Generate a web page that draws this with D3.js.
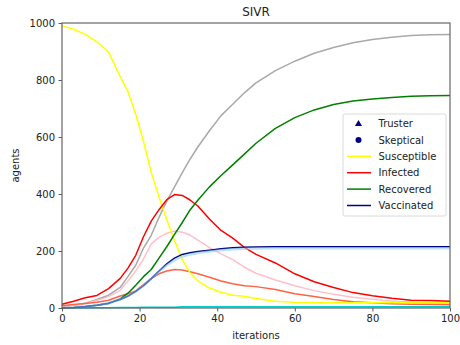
<!DOCTYPE html>
<html>
<head>
<meta charset="utf-8">
<script src="https://cdn.jsdelivr.net/npm/d3@7"></script>
<style>
  body { margin: 0; background: #fff; }
  svg { display: block; font-family: "DejaVu Sans", sans-serif; }
</style>
</head>
<body>
<svg id="chart" width="460" height="345"></svg>
<script>
const iterations = [0, 3, 6, 9, 12, 15, 17, 19, 21, 23, 25, 27, 29, 31, 33, 35, 38, 41, 44, 47, 50, 55, 60, 65, 70, 75, 80, 85, 90, 95, 100]

const susceptible = [990, 978, 960, 934, 898, 812, 760, 680, 585, 475, 390, 310, 236, 170, 124, 95, 70, 55, 45, 41, 33, 24, 20, 19, 18, 18, 18, 18, 18, 18, 18]
const infected = [13, 24, 36, 44, 68, 104, 140, 185, 250, 305, 345, 380, 398, 395, 379, 358, 312, 272, 245, 213, 188, 158, 120, 92, 72, 54, 43, 34, 27, 26, 24]
const recovered = [0, 2, 5, 10, 16, 32, 52, 80, 110, 135, 175, 215, 258, 300, 344, 378, 425, 465, 502, 540, 578, 630, 668, 695, 714, 726, 733, 739, 743, 745, 746]
const vaccinated = [0, 2, 5, 10, 17, 30, 42, 58, 78, 103, 130, 155, 175, 188, 194, 198, 203, 208, 211, 213, 214, 215, 215, 215, 215, 215, 215, 215, 215, 215, 215]

// per-group lines (not in the legend)
const grayLine = [5, 10, 17, 30, 45, 72, 110, 150, 210, 255, 318, 375, 425, 475, 522, 565, 622, 675, 715, 755, 790, 833, 866, 894, 914, 931, 942, 950, 956, 959, 960]
const pinkLine = [5, 10, 16, 26, 40, 62, 95, 130, 172, 225, 248, 262, 270, 266, 256, 238, 212, 190, 170, 143, 122, 98, 78, 61, 48, 38, 31, 24, 20, 17, 15]
const tomatoLine = [8, 12, 16, 20, 27, 42, 50, 60, 82, 103, 120, 130, 135, 133, 127, 120, 108, 95, 85, 78, 75, 65, 50, 40, 30, 22, 18, 15, 13, 12, 11]
const lightBlueLine = [0, 2, 5, 10, 17, 30, 42, 58, 78, 103, 128, 150, 168, 181, 188, 193, 198, 203, 206, 208, 209, 210, 210, 210, 210, 210, 210, 210, 210, 210, 210]
const cyanLine = [0, 0, 1, 1, 1, 2, 2, 2, 3, 3, 3, 3, 3, 4, 4, 4, 4, 4, 4, 4, 4, 4, 4, 4, 4, 4, 4, 4, 4, 4, 4]

const xTicks = [0, 20, 40, 60, 80, 100]
const yTicks = [0, 200, 400, 600, 800, 1000]

const legendItems = [
    { label: "Truster", marker: "triangle" },
    { label: "Skeptical", marker: "circle" },
    { label: "Susceptible", color: "#ffff00" },
    { label: "Infected", color: "#ff0000" },
    { label: "Recovered", color: "#008000" },
    { label: "Vaccinated", color: "#000080" }
]

const series = [
    { values: grayLine, color: "#a9a9a9", width: 1.5, opacity: 1 },
    { values: pinkLine, color: "#ffc0cb", width: 1.5, opacity: 1 },
    { values: tomatoLine, color: "#ff6347", width: 1.5, opacity: 1 },
    { values: cyanLine, color: "#00cccc", width: 1.5, opacity: 1 },
    { values: susceptible, color: "#ffff00", width: 1.5, opacity: 1 },
    { values: infected, color: "#ff0000", width: 1.5, opacity: 1 },
    { values: recovered, color: "#008000", width: 1.5, opacity: 1 },
    { values: vaccinated, color: "#000080", width: 1.5, opacity: 1 },
    { values: lightBlueLine, color: "#87cefa", width: 2.5, opacity: 0.55 }
]

const svg = d3.select("#chart")
const plotLeft = 62, plotRight = 450, plotTop = 23, plotBottom = 308

const x = d3.scaleLinear().domain([0, 100]).range([plotLeft, plotRight])
const y = d3.scaleLinear().domain([0, 1000]).range([plotBottom, plotTop])

const line = d3.line()
    .x((d, i) => x(iterations[i]))
    .y((d) => y(d))

const plot = svg.append("g")
series.forEach((s) => {
    plot.append("path")
        .datum(s.values)
        .attr("fill", "none")
        .attr("stroke", s.color)
        .attr("stroke-width", s.width)
        .attr("stroke-opacity", s.opacity)
        .attr("stroke-linejoin", "round")
        .attr("d", line)
})

// axes
const xAxis = svg.append("g")
    .attr("transform", `translate(0,${plotBottom})`)
    .call(d3.axisBottom(x).tickValues(xTicks).tickFormat(d3.format("d")).tickSize(3.5).tickPadding(3.5))
const yAxis = svg.append("g")
    .attr("transform", `translate(${plotLeft},0)`)
    .call(d3.axisLeft(y).tickValues(yTicks).tickFormat(d3.format("d")).tickSize(3.5).tickPadding(3.5))

for (const ax of [xAxis, yAxis]) {
    ax.select(".domain").remove()
    ax.selectAll("line").attr("stroke", "#333").attr("stroke-width", 0.8)
    ax.selectAll("text")
        .attr("font-size", 10)
        .attr("fill", "#222")
        .attr("font-family", "DejaVu Sans")
}

// frame
svg.append("rect")
    .attr("x", plotLeft)
    .attr("y", plotTop)
    .attr("width", plotRight - plotLeft)
    .attr("height", plotBottom - plotTop)
    .attr("fill", "none")
    .attr("stroke", "#666")
    .attr("stroke-width", 1.2)

// labels
svg.append("text")
    .attr("x", (plotLeft + plotRight) / 2)
    .attr("y", 16)
    .attr("text-anchor", "middle")
    .attr("font-size", 12)
    .attr("fill", "#222")
    .text("SIVR")

svg.append("text")
    .attr("x", (plotLeft + plotRight) / 2)
    .attr("y", 339)
    .attr("text-anchor", "middle")
    .attr("font-size", 10)
    .attr("fill", "#222")
    .text("iterations")

svg.append("text")
    .attr("transform", `translate(19,${(plotTop + plotBottom) / 2}) rotate(-90)`)
    .attr("text-anchor", "middle")
    .attr("font-size", 10)
    .attr("fill", "#222")
    .text("agents")

// legend
const legend = svg.append("g").attr("transform", "translate(343,114)")
legend.append("rect")
    .attr("width", 103)
    .attr("height", 102)
    .attr("rx", 2)
    .attr("fill", "white")
    .attr("fill-opacity", 0.8)
    .attr("stroke", "#d0d0d0")
    .attr("stroke-width", 0.8)

legendItems.forEach((item, i) => {
    const row = legend.append("g").attr("transform", `translate(0,${9.5 + i * 16.4})`)
    if (item.marker === "triangle") {
        row.append("path")
            .attr("d", d3.symbol(d3.symbolTriangle, 22)())
            .attr("transform", "translate(15.5,0.5)")
            .attr("fill", "#000080")
    } else if (item.marker === "circle") {
        row.append("circle")
            .attr("cx", 15.5)
            .attr("cy", 0)
            .attr("r", 3)
            .attr("fill", "#000080")
    } else {
        row.append("line")
            .attr("x1", 4)
            .attr("x2", 28)
            .attr("stroke", item.color)
            .attr("stroke-width", 1.5)
    }
    row.append("text")
        .attr("x", 35.5)
        .attr("y", 3.6)
        .attr("font-size", 10)
        .attr("fill", "#222")
        .text(item.label)
})
</script>
</body>
</html>
